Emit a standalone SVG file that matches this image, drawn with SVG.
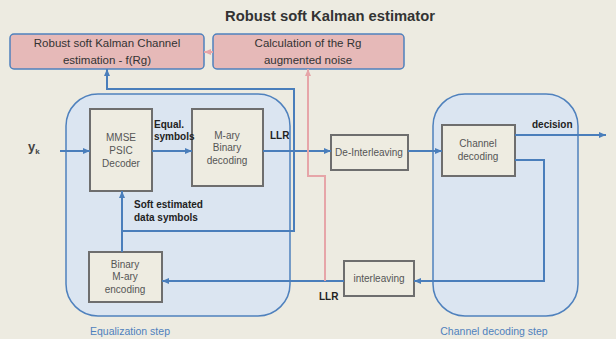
<svg xmlns="http://www.w3.org/2000/svg" width="616" height="339" viewBox="0 0 616 339">
<style>
  text { font-family: "Liberation Sans", Arial, sans-serif; }
  .pink { fill: #E6B9B8; stroke: #4F81BD; stroke-width: 1.5; }
  .region { fill: #DBE5F1; stroke: #4F81BD; stroke-width: 1.5; }
  .box { fill: #EEECE1; stroke: #6E6E6E; stroke-width: 2; }
  .btxt { font-size: 10px; fill: #555; text-anchor: middle; }
  .ptxt { font-size: 11.5px; fill: #333; text-anchor: middle; }
  .lbl { font-size: 10px; fill: #222; font-weight: bold; }
  .step { font-size: 10.5px; fill: #4F81BD; }
  .conn { fill: none; stroke: #4A7EBB; stroke-width: 2; }
  .pconn { fill: none; stroke: #E6A5A8; stroke-width: 2; }
</style>
<defs>
  <marker id="ab" markerWidth="8" markerHeight="8" refX="7" refY="4" orient="auto" markerUnits="userSpaceOnUse">
    <path d="M0,1 L7,4 L0,7 Z" fill="#4A7EBB"/>
  </marker>
  <marker id="ap" markerWidth="8" markerHeight="8" refX="7" refY="4" orient="auto" markerUnits="userSpaceOnUse">
    <path d="M0,1 L7,4 L0,7 Z" fill="#E6A5A8"/>
  </marker>
</defs>
<rect x="0" y="0" width="616" height="339" fill="#EDEBE1"/>

<text x="330" y="21" text-anchor="middle" font-size="14" font-weight="bold" fill="#333" textLength="210" lengthAdjust="spacingAndGlyphs">Robust soft Kalman estimator</text>

<g id="eq-region">
  <rect class="region" x="66" y="94" width="224" height="222" rx="32"/>
  <text class="step" x="130" y="335" text-anchor="middle">Equalization step</text>
</g>
<g id="cd-region">
  <rect class="region" x="433" y="94" width="145" height="222" rx="32"/>
  <text class="step" x="494" y="335" text-anchor="middle">Channel decoding step</text>
</g>

<g id="kalman">
  <rect class="pink" x="10" y="34" width="194" height="35" rx="4"/>
  <text class="ptxt" x="107" y="47">Robust soft Kalman Channel</text>
  <text class="ptxt" x="107" y="64">estimation - f(Rg)</text>
</g>
<g id="rg">
  <rect class="pink" x="213" y="34" width="191" height="35" rx="4"/>
  <text class="ptxt" x="308" y="47">Calculation of the Rg</text>
  <text class="ptxt" x="308" y="64">augmented noise</text>
</g>

<g id="mmse">
  <rect class="box" x="90" y="109" width="62" height="82"/>
  <text class="btxt" x="121" y="141">MMSE</text>
  <text class="btxt" x="121" y="154">PSIC</text>
  <text class="btxt" x="121" y="167">Decoder</text>
</g>
<g id="mary">
  <rect class="box" x="192" y="109" width="71" height="77"/>
  <text class="btxt" x="227" y="139">M-ary</text>
  <text class="btxt" x="227" y="151">Binary</text>
  <text class="btxt" x="227" y="164">decoding</text>
</g>
<g id="deinter">
  <rect class="box" x="331" y="135" width="77" height="35"/>
  <text class="btxt" x="369" y="156">De-Interleaving</text>
</g>
<g id="chdec">
  <rect class="box" x="442" y="125" width="73" height="51"/>
  <text class="btxt" x="478" y="147">Channel</text>
  <text class="btxt" x="478" y="160">decoding</text>
</g>
<g id="inter">
  <rect class="box" x="344" y="261" width="70" height="35"/>
  <text class="btxt" x="379" y="282">interleaving</text>
</g>
<g id="binary">
  <rect class="box" x="89" y="252" width="73" height="50"/>
  <text class="btxt" x="125" y="268">Binary</text>
  <text class="btxt" x="125" y="280">M-ary</text>
  <text class="btxt" x="125" y="293">encoding</text>
</g>

<g id="connectors">
  <path class="conn" d="M60 151 H90" marker-end="url(#ab)"/>
  <path class="conn" d="M152 151 H192" marker-end="url(#ab)"/>
  <path class="conn" d="M263 151 H331" marker-end="url(#ab)"/>
  <path class="conn" d="M408 151 H442" marker-end="url(#ab)"/>
  <path class="conn" d="M515 135 H606" marker-end="url(#ab)"/>
  <path class="conn" d="M515 160 H544 V281 H414" marker-end="url(#ab)"/>
  <path class="conn" d="M344 281 H162" marker-end="url(#ab)"/>
  <path class="conn" d="M122 252 V191" marker-end="url(#ab)"/>
  <path class="conn" d="M122 231 H294 V89 H107 V69" marker-end="url(#ab)"/>
  <path class="pconn" d="M325 281 V176 H308 V69" marker-end="url(#ap)"/>
  <path class="pconn" d="M213 52 H204" stroke-width="1.5" marker-end="url(#ap)"/>
</g>

<g id="labels">
  <text x="28" y="151" font-family="Liberation Serif, serif" font-size="13" font-weight="bold" fill="#444">y<tspan font-size="8" dy="3">k</tspan></text>
  <text class="lbl" x="154" y="128">Equal.</text>
  <text class="lbl" x="154" y="140">symbols</text>
  <text class="lbl" x="270" y="139">LLR</text>
  <text class="lbl" x="532" y="128">decision</text>
  <text class="lbl" x="134" y="208">Soft estimated</text>
  <text class="lbl" x="134" y="221">data symbols</text>
  <text class="lbl" x="319" y="300">LLR</text>
</g>
</svg>
